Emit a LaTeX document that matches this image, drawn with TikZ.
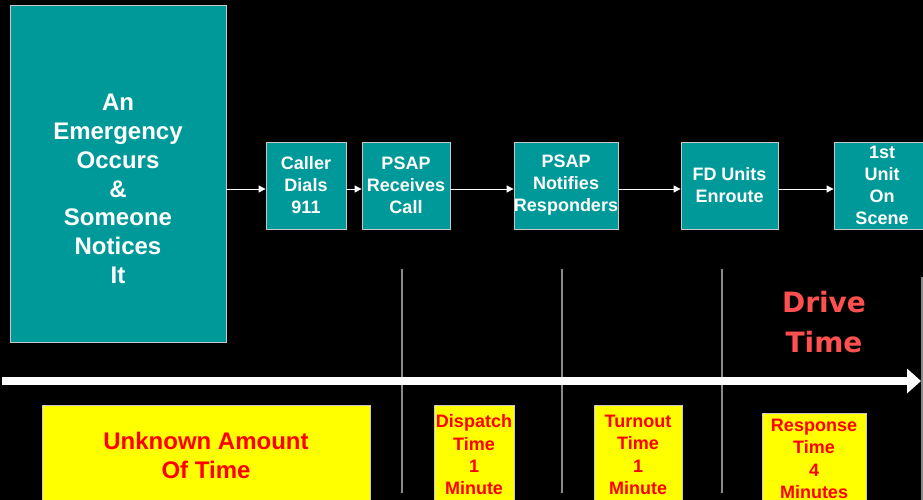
\documentclass[tikz,border=0pt]{standalone}
\usepackage{fontspec}
\setmainfont{Liberation Sans}
\newfontfamily\drivefont{DejaVu Sans}
\usetikzlibrary{arrows.meta}
\definecolor{tealbg}{HTML}{009999}
\definecolor{boxline}{HTML}{C8C8C8}
\definecolor{sepline}{HTML}{8A8A8A}
\definecolor{drivered}{RGB}{255,80,80}
\definecolor{yellowbg}{HTML}{FFFF00}
\definecolor{redtxt}{HTML}{FF0000}
\tikzset{
  tealbox/.style={draw=boxline, line width=0.8pt, fill=tealbg, inner sep=0pt, align=center,
    text=white, font=\bfseries\fontsize{18}{22}\selectfont},
  yelbox/.style={draw=boxline, line width=0.8pt, fill=yellowbg, inner sep=0pt, align=center,
    text=redtxt, font=\bfseries\fontsize{18}{22.3}\selectfont},
  flow/.style={draw=white, line width=1pt, -{Triangle[length=7pt,width=7pt]}},
  sep/.style={draw=sepline, line width=1.2pt},
}
\begin{document}
\begin{tikzpicture}[x=1pt,y=-1pt]
\useasboundingbox (0,0) rectangle (923,500);
\fill[black] (0,0) rectangle (923,500);
% top flow
\node[tealbox, minimum width=216pt, minimum height=337pt] (emerg) at (118,173.5) {};
\node[text=white, align=center, font=\bfseries\fontsize{24}{28.8}\selectfont] (emergtxt) at (118,189)
  {An\\Emergency\\Occurs\\\&\\Someone\\Notices\\It};
\node[tealbox, minimum width=80pt, minimum height=87pt] (caller) at (306,185.5) {Caller\\Dials\\911};
\node[tealbox, minimum width=88pt, minimum height=87pt] (recv) at (406,185.5) {PSAP\\Receives\\Call};
\node[tealbox, minimum width=104pt, minimum height=87pt] (notif) at (566,185.5) {PSAP\\Notifies\\Responders};
\node[tealbox, minimum width=97pt, minimum height=87pt] (fd) at (729.5,185.5) {FD Units\\Enroute};
\node[tealbox, minimum width=96pt, minimum height=87pt] (scene) at (882,185.5) {1st\\Unit\\On\\Scene};
\coordinate (ay) at (0,189);
\draw[flow] (emerg.east |- ay) -- (caller.west |- ay);
\draw[flow] (caller.east |- ay) -- (recv.west |- ay);
\draw[flow] (recv.east |- ay) -- (notif.west |- ay);
\draw[flow] (notif.east |- ay) -- (fd.west |- ay);
\draw[flow] (fd.east |- ay) -- (scene.west |- ay);
% separators
\coordinate (s1a) at (402,269); \coordinate (s1b) at (402,493);
\coordinate (s2a) at (562,269); \coordinate (s2b) at (562,493);
\coordinate (s3a) at (722,269); \coordinate (s3b) at (722,493);
\coordinate (s4a) at (922,277); \coordinate (s4b) at (922,502);
\draw[sep] (s1a) -- (s1b);
\draw[sep] (s2a) -- (s2b);
\draw[sep] (s3a) -- (s3b);
\draw[sep] (s4a) -- (s4b);
% drive time
\node[text=drivered, align=center, font=\drivefont\bfseries\fontsize{28}{40}\selectfont] (drive) at (824,322) {Drive\\Time};
% timeline
\coordinate (tstart) at (2,381);
\coordinate (tend) at (921,381);
\draw[white, line width=8pt, -{Triangle[length=14pt,width=24pt]}] (tstart) -- (tend);
% yellow boxes
\node[yelbox, minimum width=328pt, minimum height=100pt, font=\bfseries\fontsize{24}{29}\selectfont] (unknown) at (206,455) {Unknown Amount\\Of Time};
\node[yelbox, minimum width=80pt, minimum height=100pt] (dispatch) at (474,455) {Dispatch\\Time\\1\\Minute};
\node[yelbox, minimum width=88pt, minimum height=100pt] (turnout) at (638,455) {Turnout\\Time\\1\\Minute};
\node[yelbox, minimum width=104pt, minimum height=92pt] (response) at (814,459) {Response\\Time\\4\\Minutes};
\end{tikzpicture}
\end{document}
